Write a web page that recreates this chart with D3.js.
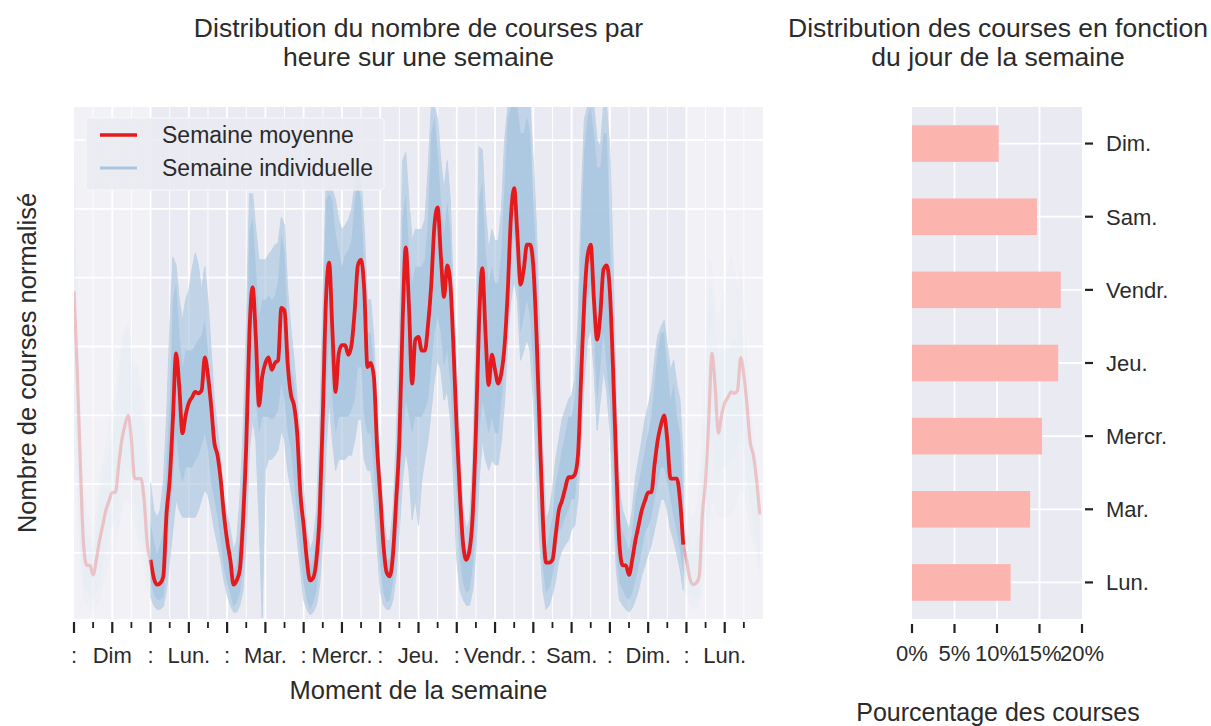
<!DOCTYPE html>
<html>
<head>
<meta charset="utf-8">
<script src="https://cdn.jsdelivr.net/npm/d3@7"></script>
<style>
body{margin:0;background:#fff;}
text{font-family:"Liberation Sans",Arial,Helvetica,sans-serif;fill:#2b2b2b;}
</style>
</head>
<body>
<div id="chart"></div>
<script>
// semaine moyenne, valeur par heure (lun. 0h -> dim. 23h), nombre de courses normalise
var meanWeek=[
 0.45,0.32,0.27,0.28,0.33,0.78,1.03,1.47,1.95,1.71,1.37,1.50,1.59,1.63,1.67,1.66,1.68,1.92,1.79,1.57,1.30,1.21,1.03,0.78,
 0.59,0.45,0.27,0.30,0.38,0.74,1.28,2.10,2.43,2.07,1.57,1.78,1.88,1.92,1.83,1.88,1.90,2.28,2.26,1.87,1.65,1.57,1.36,0.92,
 0.70,0.45,0.30,0.32,0.45,0.78,1.50,2.34,2.61,2.12,1.67,1.95,2.01,2.01,1.94,2.01,2.26,2.59,2.63,2.41,1.85,1.88,1.78,1.28,
 0.92,0.56,0.36,0.33,0.49,0.88,1.32,2.16,2.72,2.30,1.73,2.05,2.07,1.97,1.97,2.16,2.45,2.88,3.01,2.66,2.36,2.59,2.45,1.97,
 1.39,0.92,0.56,0.45,0.52,0.78,1.39,2.19,2.57,2.10,1.72,1.94,1.83,1.73,1.81,2.01,2.41,2.95,3.15,2.81,2.45,2.56,2.74,2.74,
 2.58,2.08,1.39,0.74,0.43,0.43,0.45,0.63,0.81,0.88,0.97,1.05,1.05,1.07,1.21,1.79,2.34,2.66,2.74,2.34,2.05,2.23,2.56,2.59,
 2.40,1.83,1.14,0.56,0.41,0.41,0.34,0.45,0.59,0.70,0.81,0.88,0.94,0.94,1.14,1.32,1.43,1.50,1.32,1.04,1.04,1.04,0.88,0.56];

// semaines individuelles : bande dense (coeur) haut / bas
var coreHigh=[
 0.72,0.59,0.49,0.56,0.67,1.12,1.61,2.34,2.46,2.10,1.85,1.97,1.97,1.97,2.01,2.05,2.08,2.19,1.97,1.68,1.39,1.25,1.01,0.76,
 0.65,0.52,0.38,0.41,0.65,1.12,1.85,2.82,2.94,2.58,2.21,2.34,2.34,2.37,2.34,2.37,2.48,2.82,2.70,2.10,1.85,1.73,1.49,1.12,
 0.76,0.52,0.40,0.45,0.65,1.12,2.10,3.06,3.11,3.06,2.82,2.70,2.58,2.67,2.70,2.77,3.06,3.19,3.06,2.58,2.10,2.10,1.85,1.37,
 0.89,0.65,0.45,0.45,0.65,1.12,1.85,2.94,3.11,2.70,2.46,2.58,2.58,2.58,2.63,2.94,3.55,3.67,3.43,3.06,2.82,3.06,2.82,2.10,
 1.61,1.01,0.65,0.52,0.57,1.01,1.85,3.06,3.19,2.70,2.46,2.58,2.46,2.46,2.70,3.19,3.67,3.74,3.74,3.74,3.55,3.55,3.67,3.55,
 3.06,2.58,1.85,1.01,0.52,0.65,0.76,1.01,1.12,1.25,1.37,1.49,1.49,1.61,1.97,2.82,3.43,3.67,3.74,3.55,3.30,3.30,3.55,3.55,
 2.82,2.10,1.37,0.76,0.65,0.59,0.52,0.65,0.89,1.01,1.12,1.25,1.37,1.49,1.73,1.97,2.10,2.10,1.85,1.61,1.73,1.49,1.37,0.89];
var coreLow=[
 0.30,0.20,0.16,0.16,0.18,0.40,0.76,1.01,1.37,1.12,1.01,1.12,1.12,1.12,1.17,1.21,1.28,1.37,1.25,1.01,0.89,0.76,0.59,0.40,
 0.28,0.21,0.11,0.14,0.21,0.40,0.89,1.61,1.85,1.61,1.37,1.49,1.49,1.49,1.47,1.49,1.54,1.73,1.61,1.37,1.25,1.01,0.76,0.52,
 0.28,0.16,0.09,0.14,0.23,0.45,0.89,1.61,2.10,1.61,1.37,1.49,1.49,1.49,1.49,1.54,1.61,1.85,1.85,1.49,1.37,1.37,1.12,0.76,
 0.40,0.21,0.14,0.16,0.28,0.52,0.89,1.37,1.61,1.49,1.37,1.49,1.49,1.49,1.54,1.61,1.85,2.10,2.21,2.10,1.85,1.97,1.73,1.25,
 0.89,0.45,0.28,0.21,0.23,0.40,0.76,1.37,1.61,1.49,1.37,1.49,1.37,1.37,1.61,1.85,2.34,2.70,2.82,2.58,2.10,2.21,2.34,2.21,
 1.85,1.37,0.89,0.40,0.21,0.25,0.33,0.47,0.65,0.69,0.76,0.81,0.89,0.89,1.12,1.61,2.10,2.34,2.46,2.10,1.61,1.85,2.10,1.85,
 1.61,1.12,0.52,0.28,0.23,0.18,0.16,0.21,0.30,0.40,0.52,0.65,0.69,0.76,0.89,1.01,1.12,1.12,1.01,0.89,0.76,0.65,0.52,0.35];

// semaines individuelles : extremes (quelques semaines isolees)
var outerHigh=[
 1.01,0.81,0.76,0.81,1.01,1.47,2.12,2.65,2.59,2.34,2.19,2.34,2.41,2.56,2.68,2.59,2.41,2.58,2.34,1.97,1.61,1.39,1.18,0.89,
 0.78,0.67,0.52,0.59,0.89,1.39,2.12,3.11,3.11,2.85,2.63,2.63,2.63,2.67,2.70,2.74,2.75,2.94,2.88,2.41,2.12,1.90,1.61,1.32,
 0.96,0.67,0.52,0.59,0.81,1.39,2.34,3.14,3.15,3.14,3.06,2.92,2.85,2.88,2.92,2.99,3.17,3.30,3.21,2.85,2.34,2.34,2.05,1.54,
 1.10,0.81,0.59,0.59,0.81,1.32,2.12,3.35,3.41,3.06,2.77,2.85,2.85,2.85,2.92,3.28,3.74,3.74,3.65,3.35,3.14,3.35,3.06,2.34,
 1.83,1.25,0.81,0.67,0.74,1.18,2.12,3.45,3.43,2.99,2.70,2.85,2.77,2.77,2.99,3.50,3.74,3.74,3.74,3.74,3.74,3.74,3.74,3.74,
 3.35,2.85,2.12,1.25,0.74,0.81,0.96,1.18,1.32,1.47,1.54,1.61,1.65,1.76,2.19,3.06,3.65,3.74,3.74,3.74,3.50,3.45,3.74,3.74,
 3.43,2.63,1.61,0.96,0.81,0.74,0.67,0.81,1.04,1.18,1.32,1.47,1.57,1.68,1.90,2.08,2.14,2.19,2.01,1.83,1.90,1.72,1.61,1.18];
var outerLow=[
 0.18,0.12,0.09,0.09,0.11,0.23,0.45,0.67,0.89,0.81,0.76,0.76,0.76,0.76,0.76,0.81,0.89,0.96,0.92,0.81,0.67,0.56,0.45,0.30,
 0.20,0.12,0.07,0.07,0.12,0.23,0.59,1.25,1.47,1.32,0.74,0.03,1.10,1.18,1.18,1.21,1.25,1.39,1.32,1.10,0.96,0.81,0.59,0.38,
 0.16,0.09,0.05,0.07,0.12,0.27,0.59,1.25,1.61,1.32,1.10,1.18,1.18,1.18,1.21,1.21,1.32,1.47,1.47,1.18,1.10,1.10,0.89,0.56,
 0.23,0.12,0.09,0.09,0.16,0.34,0.67,1.03,1.25,1.10,0.74,0.89,0.70,1.03,1.18,1.32,1.54,1.76,1.90,1.83,1.61,1.68,1.47,1.03,
 0.45,0.23,0.16,0.12,0.12,0.23,0.52,1.03,1.32,1.18,1.10,1.18,1.14,1.14,1.32,1.61,2.05,2.34,2.48,2.34,1.90,1.97,2.05,1.97,
 1.61,1.10,0.59,0.23,0.09,0.12,0.20,0.30,0.45,0.52,0.56,0.59,0.67,0.70,0.89,1.32,1.76,2.05,2.12,1.83,1.39,1.61,1.83,1.68,
 1.39,0.89,0.38,0.16,0.12,0.09,0.07,0.10,0.16,0.23,0.34,0.41,0.49,0.56,0.67,0.78,0.89,0.89,0.81,0.67,0.59,0.49,0.38,0.23];

// axe x : une etiquette toutes les 12 h, de dim. 0h (-24) a lun. 12h (180)
var xTickLabels=[":","Dim",":","Lun.",":","Mar.",":","Mercr.",":","Jeu.",":","Vendr.",":","Sam.",":","Dim.",":","Lun."];
var yGridValues=[0.5,1,1.5,2,2.5,3,3.5];

// repartition par jour
var days=["Lun.","Mar.","Mercr.","Jeu.","Vendr.","Sam.","Dim."];
var dayShare=[0.116,0.139,0.153,0.172,0.175,0.147,0.102];
var shareTicks=[0,0.05,0.10,0.15,0.20];

var width=1211,height=726;
var blue="#a9c6df", red="#e41a1c", bg="#eaeaf2";

var svg=d3.select("#chart").append("svg")
	.attr("width",width)
	.attr("height",height);
svg.append("rect").attr("width",width).attr("height",height).attr("fill","#fff");

//----- graphe de gauche
var pl={left:74,right:763,top:107,bottom:619};
var x=d3.scaleLinear().domain([-24,192]).range([pl.left,pl.right]);
var y=d3.scaleLinear().domain([0.02,3.74]).range([pl.bottom,pl.top]);

svg.append("clipPath").attr("id","clipL").append("rect")
	.attr("x",pl.left).attr("y",pl.top)
	.attr("width",pl.right-pl.left).attr("height",pl.bottom-pl.top);

var gL=svg.append("g");
gL.append("rect")
	.attr("x",pl.left).attr("y",pl.top)
	.attr("width",pl.right-pl.left).attr("height",pl.bottom-pl.top)
	.attr("fill",bg);

var majorHours=xTickLabels.map(function(d,i){return -24+12*i;});
var minorHours=majorHours.map(function(h){return h+6;});

gL.selectAll(".vminor").data(minorHours).enter().append("line")
	.attr("x1",function(d){return x(d);}).attr("x2",function(d){return x(d);})
	.attr("y1",pl.top).attr("y2",pl.bottom)
	.attr("stroke","#fff").attr("stroke-width",0.9);
gL.selectAll(".vmajor").data(majorHours.slice(1)).enter().append("line")
	.attr("x1",function(d){return x(d);}).attr("x2",function(d){return x(d);})
	.attr("y1",pl.top).attr("y2",pl.bottom)
	.attr("stroke","#fff").attr("stroke-width",1.8);
gL.selectAll(".hgrid").data(yGridValues).enter().append("line")
	.attr("x1",pl.left).attr("x2",pl.right)
	.attr("y1",function(d){return y(d);}).attr("y2",function(d){return y(d);})
	.attr("stroke","#fff").attr("stroke-width",1.8);

var week=meanWeek.map(function(d,i){
	return {h:i,m:d,cLo:coreLow[i],cHi:coreHigh[i],oLo:outerLow[i],oHi:outerHigh[i]};
});
// dimanche recopie avant, lundi recopie apres
var before=week.slice(144).map(function(d){return Object.assign({},d,{h:d.h-168});}).concat([week[0]]);
var after=[week[167]].concat(week.slice(0,24).map(function(d){return Object.assign({},d,{h:d.h+168});}));

var outerArea=d3.area()
	.x(function(d){return x(d.h);})
	.y0(function(d){return y(d.oLo);})
	.y1(function(d){return y(d.oHi);});
var coreArea=d3.area()
	.x(function(d){return x(d.h);})
	.y0(function(d){return y(d.cLo);})
	.y1(function(d){return y(d.cHi);});
var meanLine=d3.line()
	.curve(d3.curveMonotoneX)
	.x(function(d){return x(d.h);})
	.y(function(d){return y(d.m);});

var gData=gL.append("g").attr("clip-path","url(#clipL)");

[before,after].forEach(function(part){
	gData.append("path").attr("d",outerArea(part)).attr("fill",blue).attr("opacity",0.07);
	gData.append("path").attr("d",coreArea(part)).attr("fill",blue).attr("opacity",0.13);
	gData.append("path").attr("d",meanLine(part))
		.attr("fill","none").attr("stroke",red).attr("stroke-width",3.2).attr("opacity",0.33);
});

gData.append("path").attr("d",outerArea(week))
	.attr("fill",blue).attr("opacity",0.62)
	.attr("stroke",blue).attr("stroke-width",1);
gData.append("path").attr("d",coreArea(week))
	.attr("fill",blue).attr("opacity",0.85);
gData.append("path").attr("d",meanLine(week))
	.attr("fill","none").attr("stroke",red).attr("stroke-width",3.8)
	.attr("stroke-linejoin","round");

// voile blanc sur les parties recopiees
gL.selectAll(".veil").data([[-24,0],[168,192]]).enter().append("rect")
	.attr("x",function(d){return x(d[0]);}).attr("y",pl.top)
	.attr("width",function(d){return x(d[1])-x(d[0]);}).attr("height",pl.bottom-pl.top)
	.attr("fill","#fff").attr("opacity",0.35);

// ticks x
gL.selectAll(".tmaj").data(majorHours).enter().append("line")
	.attr("x1",function(d){return x(d);}).attr("x2",function(d){return x(d);})
	.attr("y1",pl.bottom+3).attr("y2",pl.bottom+14)
	.attr("stroke","#222").attr("stroke-width",2.2);
gL.selectAll(".tmin").data(minorHours).enter().append("line")
	.attr("x1",function(d){return x(d);}).attr("x2",function(d){return x(d);})
	.attr("y1",pl.bottom+3).attr("y2",pl.bottom+9)
	.attr("stroke","#222").attr("stroke-width",1.8);
gL.selectAll(".tlab").data(xTickLabels).enter().append("text")
	.attr("x",function(d,i){return x(majorHours[i]);})
	.attr("y",pl.bottom+44)
	.attr("text-anchor","middle")
	.style("font-size","22px")
	.text(function(d){return d;});

gL.append("text")
	.attr("x",(pl.left+pl.right)/2).attr("y",699)
	.attr("text-anchor","middle").style("font-size","25.5px")
	.text("Moment de la semaine");
gL.append("text")
	.attr("transform","translate(36,"+((pl.top+pl.bottom)/2)+") rotate(-90)")
	.attr("text-anchor","middle").style("font-size","25.5px")
	.text("Nombre de courses normalisé");
var titleL=gL.append("text").attr("text-anchor","middle").style("font-size","26.5px");
titleL.append("tspan").attr("x",(pl.left+pl.right)/2).attr("y",37).text("Distribution du nombre de courses par");
titleL.append("tspan").attr("x",(pl.left+pl.right)/2).attr("y",66).text("heure sur une semaine");

// legende
var leg=gL.append("g");
leg.append("rect")
	.attr("x",86).attr("y",118).attr("width",298).attr("height",72).attr("rx",3)
	.attr("fill",bg).attr("fill-opacity",0.9)
	.attr("stroke","#f7f7fa").attr("stroke-width",1);
var legItems=[{label:"Semaine moyenne",color:red,w:3.5},{label:"Semaine individuelle",color:blue,w:3}];
leg.selectAll(".li").data(legItems).enter().append("line")
	.attr("x1",100).attr("x2",137)
	.attr("y1",function(d,i){return 135+i*33;}).attr("y2",function(d,i){return 135+i*33;})
	.attr("stroke",function(d){return d.color;}).attr("stroke-width",function(d){return d.w;});
leg.selectAll(".lt").data(legItems).enter().append("text")
	.attr("x",162).attr("y",function(d,i){return 143+i*33;})
	.style("font-size","23px")
	.text(function(d){return d.label;});

//----- graphe de droite
var pr={left:912,right:1082,top:107,bottom:619};
var x2=d3.scaleLinear().domain([0,0.2]).range([pr.left,pr.right]);
var y2=d3.scaleBand().domain(days.slice().reverse()).range([pr.top,pr.bottom])
	.paddingInner(0.5).paddingOuter(0.25);

var gR=svg.append("g");
gR.append("rect")
	.attr("x",pr.left).attr("y",pr.top)
	.attr("width",pr.right-pr.left).attr("height",pr.bottom-pr.top)
	.attr("fill",bg);
gR.selectAll(".vg").data(shareTicks.slice(1,-1)).enter().append("line")
	.attr("x1",function(d){return x2(d);}).attr("x2",function(d){return x2(d);})
	.attr("y1",pr.top).attr("y2",pr.bottom)
	.attr("stroke","#fff").attr("stroke-width",1.8);
gR.selectAll(".hg").data(days).enter().append("line")
	.attr("x1",pr.left).attr("x2",pr.right)
	.attr("y1",function(d){return y2(d)+y2.bandwidth()/2;})
	.attr("y2",function(d){return y2(d)+y2.bandwidth()/2;})
	.attr("stroke","#fff").attr("stroke-width",1.8);
gR.selectAll(".bar").data(days).enter().append("rect")
	.attr("x",x2(0))
	.attr("y",function(d){return y2(d);})
	.attr("width",function(d,i){return x2(dayShare[i])-x2(0);})
	.attr("height",y2.bandwidth())
	.attr("fill","#fbb4ae");

gR.selectAll(".yt").data(days).enter().append("line")
	.attr("x1",pr.right+3).attr("x2",pr.right+11)
	.attr("y1",function(d){return y2(d)+y2.bandwidth()/2;})
	.attr("y2",function(d){return y2(d)+y2.bandwidth()/2;})
	.attr("stroke","#222").attr("stroke-width",2.2);
gR.selectAll(".ytl").data(days).enter().append("text")
	.attr("x",pr.right+24)
	.attr("y",function(d){return y2(d)+y2.bandwidth()/2;})
	.attr("dy","0.36em")
	.style("font-size","22px")
	.text(function(d){return d;});

gR.selectAll(".xt").data(shareTicks).enter().append("line")
	.attr("x1",function(d){return x2(d);}).attr("x2",function(d){return x2(d);})
	.attr("y1",pr.bottom+5).attr("y2",pr.bottom+14)
	.attr("stroke","#222").attr("stroke-width",2.2);
gR.selectAll(".xtl").data(shareTicks).enter().append("text")
	.attr("x",function(d){return x2(d);})
	.attr("y",pr.bottom+42)
	.attr("text-anchor","middle")
	.style("font-size","22px")
	.text(d3.format(".0%"));

gR.append("text")
	.attr("x",998).attr("y",721)
	.attr("text-anchor","middle").style("font-size","25px")
	.text("Pourcentage des courses");
var titleR=gR.append("text").attr("text-anchor","middle").style("font-size","26.5px");
titleR.append("tspan").attr("x",998).attr("y",37).text("Distribution des courses en fonction");
titleR.append("tspan").attr("x",998).attr("y",66).text("du jour de la semaine");
</script>
</body>
</html>
